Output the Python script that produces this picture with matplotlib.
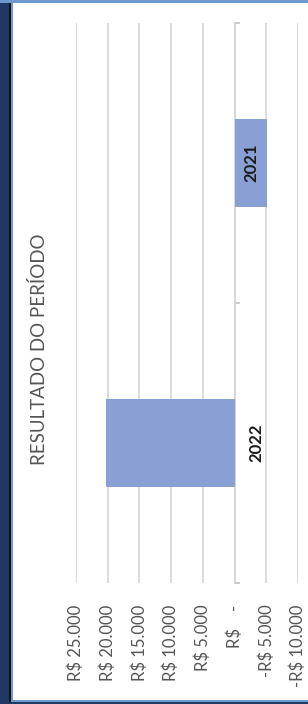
import matplotlib
matplotlib.use("Agg")
import matplotlib.pyplot as plt
from matplotlib.patches import Rectangle
from matplotlib.ticker import FixedLocator

categories = ["2021", "2022"]
values = [-5100, 20300]
tick_values = [25000, 20000, 15000, 10000, 5000, 0, -5000, -10000]
tick_labels = ["R$ 25.000", "R$ 20.000", "R$ 15.000", "R$ 10.000",
               "R$ 5.000", "R$    -", "-R$ 5.000", "-R$ 10.000"]
title = "RESULTADO DO PERÍODO"

plt.rcParams['font.family'] = ['Lato', 'DejaVu Sans']

W, H = 308, 704
fig = plt.figure(figsize=(W / 100, H / 100), dpi=100)
fig.patch.set_facecolor("white")

# screenshot frame
fig.add_artist(Rectangle((0, 0), 9 / W, 1, transform=fig.transFigure,
                         facecolor="#1F3864", edgecolor="none", zorder=0))
fig.add_artist(Rectangle((9 / W, 0), 1.5 / W, 1, transform=fig.transFigure,
                         facecolor="#111111", edgecolor="none", zorder=0))
fig.add_artist(Rectangle((10.5 / W, 0), 2 / W, 1, transform=fig.transFigure,
                         facecolor="#6F97D0", edgecolor="none", zorder=0))
fig.add_artist(Rectangle((0, 1 - 2.5 / H), 1, 2.5 / H, transform=fig.transFigure,
                         facecolor="#6F97D0", edgecolor="none", zorder=0))
fig.add_artist(Rectangle((10.5 / W, 2 / H), 1, 2 / H, transform=fig.transFigure,
                         facecolor="#6F97D0", edgecolor="none", zorder=0))
fig.add_artist(Rectangle((0, 0), 1, 2 / H, transform=fig.transFigure,
                         facecolor="#1F3864", edgecolor="none", zorder=0))

ax = fig.add_axes([76 / W, (H - 583) / H, (298 - 76) / W, 560 / H])
ax.set_facecolor("none")

ypos = list(range(len(categories)))
ax.barh(ypos, values, height=0.315, color="#8A9FD3", edgecolor="none", zorder=2)

ax.set_xlim(25000, -10000)
ax.set_ylim(1.5, -0.5)

ax.xaxis.set_major_locator(FixedLocator(tick_values))
ax.set_xticks(tick_values)
ax.set_xticklabels(tick_labels, rotation=90, va="top", ha="center",
                   fontsize=12, color="#555555")
ax.tick_params(axis="x", length=0, pad=15.5)
ax.grid(axis="x", color="#D9D9D9", linewidth=1.3, zorder=0)
ax.set_yticks([])

for s in ["top", "bottom", "right", "left"]:
    ax.spines[s].set_visible(False)

# zero (category) axis line with tick marks
ax.axvline(0, color="#BFBFBF", linewidth=1.2, zorder=1)
for yb in [-0.5, 0.5, 1.5]:
    ax.plot([0, -700], [yb, yb], color="#BFBFBF", linewidth=1.2, zorder=1,
            clip_on=False)

# category labels
label_x = [-2600, -3500]
for y, cat, lx in zip(ypos, categories, label_x):
    ax.text(lx, y, cat, rotation=90, ha="center", va="center",
            fontsize=12, fontweight="bold", color="#1a1a1a", zorder=3)

fig.text(39 / W, 1 - 349 / H, title, rotation=90, ha="center", va="center",
         fontsize=13.5, color="#555555")

fig.savefig("out.png", dpi=100)
